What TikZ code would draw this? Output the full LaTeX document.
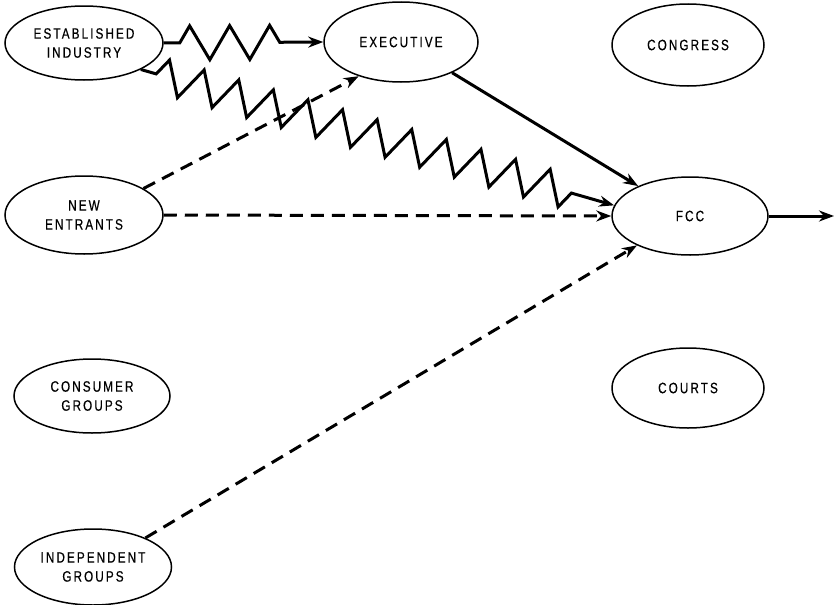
\documentclass[tikz,border=0pt]{standalone}
\usepackage{fontspec}
\setmainfont{Liberation Sans}[FakeStretch=0.78, LetterSpace=14, FakeBold=0.5]
\usetikzlibrary{decorations.pathmorphing,arrows.meta,shapes.geometric}
\begin{document}
\begin{tikzpicture}[x=1pt,y=-1pt,
  actor/.style={ellipse, draw, line width=1.5pt, inner sep=0pt, align=center,
    font=\fontsize{15}{19}\selectfont},
  link/.style={line width=3pt, -{Stealth[length=15pt,width=11pt]}},
  dashlink/.style={link, dash pattern=on 13pt off 8pt},
  zig/.style={link, decorate, decoration={zigzag, segment length=#1, amplitude=17pt, pre length=16pt, post length=28pt}}
]
\useasboundingbox (0,0) rectangle (838,605);
\node[actor, minimum width=158pt, minimum height=74pt] (est) at (84,43) {ESTABLISHED\\INDUSTRY};
\node[actor, minimum width=154pt, minimum height=80pt] (exec) at (401,42) {EXECUTIVE};
\node[actor, minimum width=152pt, minimum height=82pt] (cong) at (688,45) {CONGRESS};
\node[actor, minimum width=158pt, minimum height=78pt] (ne) at (84,215) {NEW\\ENTRANTS};
\node[actor, minimum width=156pt, minimum height=78pt] (fcc) at (690,216) {FCC};
\node[actor, minimum width=156pt, minimum height=74pt] (cons) at (92,396) {CONSUMER\\GROUPS};
\node[actor, minimum width=152pt, minimum height=80pt] (courts) at (688,388) {COURTS};
\node[actor, minimum width=157pt, minimum height=76pt] (ind) at (93,567) {INDEPENDENT\\GROUPS};
\coordinate (out) at (834,216);

\draw[zig=40pt] (est.east) -- (exec.west);
\draw[zig=36pt] (est.-25) -- (fcc.172);
\draw[link] (exec.-31) -- (fcc.150);
\draw[dashlink] (ne.24) -- (exec.219);
\draw[dashlink] (ne.east) -- (fcc.west);
\draw[dashlink] (ind.29) -- (fcc.209);
\draw[link] (fcc.east) -- (out);
\end{tikzpicture}
\end{document}
